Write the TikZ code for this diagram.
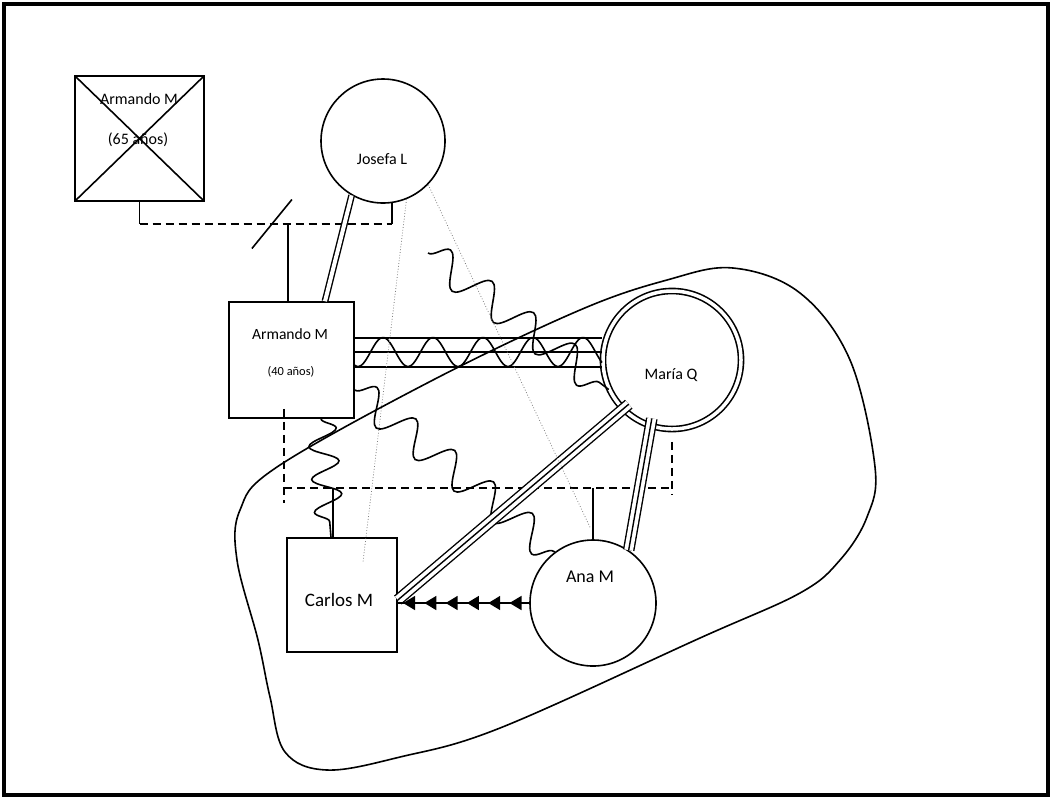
\documentclass[tikz,border=0pt]{standalone}
\usepackage{fontspec}
\setmainfont{Carlito}
\usepackage{tikz}
\usetikzlibrary{decorations.pathmorphing, decorations.markings, arrows.meta, calc}

\begin{document}
\begin{tikzpicture}[x=0.5pt, y=-0.5pt, line width=0.8pt,
	varon/.style={draw, rectangle, inner sep=0pt},
	mujer/.style={draw, circle, inner sep=0pt},
	nombre/.style={font=\fontsize{8}{9}\selectfont, inner sep=0pt},
	conflicto/.style={decorate, decoration={snake, segment length=#1, amplitude=8pt}},
	union/.style={double, double distance=2pt, line width=0.7pt},
	fusion/.style={double, double distance=4.4pt, line width=0.7pt, postaction={draw, line width=0.7pt}},
	hijos/.style={dash pattern=on 4pt off 2.5pt},
	lejano/.style={gray, densely dotted, line width=0.4pt},
	flechas/.style={decoration={markings, mark=between positions 0.15 and 0.97 step 0.162 with {\arrow{Triangle[length=6pt, width=7pt]}}}, postaction={decorate}}]
		
		\useasboundingbox (0,0) rectangle (1052,799);
		\draw[line width=1.6pt] (4,4) rectangle (1048,795);
		
		%% personas
		\node[varon, minimum width=64.5pt, minimum height=62.5pt, path picture={\draw (path picture bounding box.north west) -- (path picture bounding box.south east) (path picture bounding box.south west) -- (path picture bounding box.north east);}] (abuelo) at (139.5,138.5) {};
		\node[mujer, minimum size=62pt] (abuela) at (383,141) {};
		\node[varon, minimum width=62.5pt, minimum height=58pt] (padre) at (291.5,360) {};
		\node[mujer, double, double distance=1.75pt, minimum size=69pt] (madre) at (672,360) {};
		\node[varon, minimum width=55pt, minimum height=57pt] (hijo) at (342,595) {};
		\node[mujer, minimum size=63pt] (hija) at (593,603) {};
		
		\node[nombre] (n-abuelo) at (139,99) {Armando M};
		\node[nombre] (e-abuelo) at (138,140) {(65 años)};
		\node[nombre] (n-abuela) at (382,159) {Josefa L};
		\node[nombre, font=\fontsize{7.8}{9}\selectfont] (n-padre) at (290,334) {Armando M};
		\node[nombre, font=\fontsize{6.2}{7}\selectfont] (e-padre) at (291,372) {(40 años)};
		\node[nombre] (n-madre) at (671,375) {María Q};
		\node[nombre, font=\fontsize{9.5}{11}\selectfont] (n-hijo) at (339,600) {Carlos M};
		\node[nombre, font=\fontsize{9}{11}\selectfont] (n-hija) at (590,577) {Ana M};
		
		%% abuelos
		\draw (abuelo.south) -- (abuelo.south |- 0,224) coordinate (u1);
		\draw (abuela.-82) -- (abuela.-82 |- 0,224) coordinate (u2);
		\draw[hijos] (u1) -- (u2);
		\draw ($(u1)!0.525!(u2)$) ++(-20,24.5) -- ++(40,-49);
		\draw ([xshift=-1.75pt]padre.north) coordinate (u3) -- (u3 |- u1);
		
		\draw[union] (abuela.-120) -- ([xshift=16.75pt]padre.north);
		
		%% pareja
		\foreach \y in {338, 352, 367}
		\draw (padre.east |- 0,\y) -- (madre.west |- 0,\y);
		\draw[domain=354:602, samples=150, smooth] plot (\x, {352-14.5*cos(7.2*(\x-383))});
		
		%% conflictos
		\coordinate (z1) at (428,253);
		\draw[conflicto=26pt] (z1) -- (madre.205);
		\draw[conflicto=25pt] ([yshift=-15pt]padre.east) -- (hija.127);
		\draw[conflicto=16.5pt, decoration={amplitude=7.2pt}] ([xshift=14.75pt]padre.south) -- ([xshift=-5.5pt]hijo.north);
		
		%% hijos
		\draw[hijos] ([xshift=-3.75pt, yshift=5pt]padre.south) coordinate (p1) -- (p1 |- 0,503);
		\draw[hijos] ([yshift=-6pt]madre.south) coordinate (p2) -- (p2 |- 0,495);
		\draw[hijos] (p1 |- 0,488) -- (p2 |- 0,488);
		\draw ([xshift=-4.5pt]hijo.north) coordinate (h1) -- (h1 |- 0,488);
		\draw (hija.north) -- (hija.north |- 0,488);
		
		%% fusiones
		\draw[fusion, shorten <=-4pt] (madre.225) -- ([yshift=-2.5pt]hijo.east);
		\draw[fusion, shorten <=-4pt] (madre.252) -- (hija.56);
		
		\draw[flechas] (hija.west) -- (hija.west -| hijo.east);
		
		%% lejanos
		\draw[lejano] (abuela.-68) -- ($(hijo.center)+(21,-33)$);
		\draw[lejano] (abuela.-44) -- ($(hija.north)+(-3,-12)$);
		
		%% limite
		\draw plot[smooth cycle, tension=0.6] coordinates {(733,268) (800,293) (850,360) (875,467) (867,517) (840,560) (800,593) (700,638) (500,728) (400,757) (327,770) (285,752) (270,697) (258,640) (237,560) (240,510) (277,467) (433,380) (580,310) (667,280)};
		
		\end{tikzpicture}
\end{document}
